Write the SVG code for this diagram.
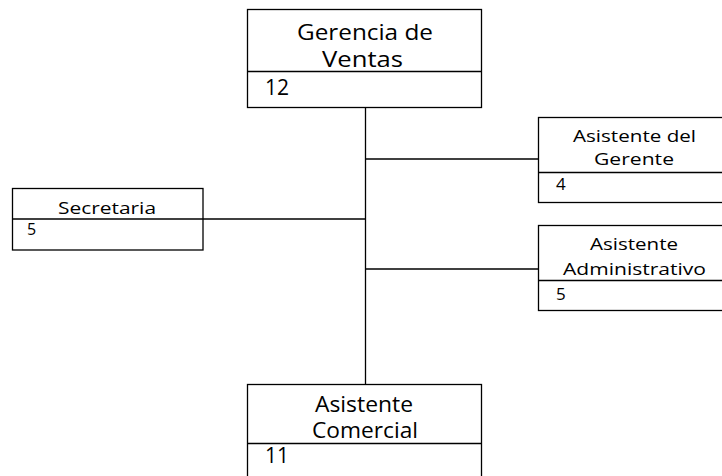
<svg xmlns="http://www.w3.org/2000/svg" width="722" height="476" viewBox="0 0 722 476">
<style>
.box{fill:#fff;stroke:#000;stroke-width:1.3}
.div{stroke:#000;stroke-width:1.3}
.con line{stroke:#000;stroke-width:1.3}
.t{font-family:"Open Sans","Liberation Sans",sans-serif;fill:#000}
.big{font-size:21px}
.mid{font-size:17px}
.sm{font-size:16px}
</style>
<rect width="722" height="476" fill="#fff"/>
<g id="connectors" class="con">
<line x1="365.5" y1="108" x2="365.5" y2="384"/>
<line x1="365.5" y1="159" x2="538" y2="159"/>
<line x1="365.5" y1="269" x2="538" y2="269"/>
<line x1="203" y1="219" x2="365.5" y2="219"/>
</g>
<g id="gerencia">
<rect class="box" x="247.5" y="9.5" width="234" height="98"/>
<line class="div" x1="247.5" y1="71.5" x2="481.5" y2="71.5"/>
<text class="t big" x="297" y="40" textLength="136" lengthAdjust="spacingAndGlyphs">Gerencia de</text>
<text class="t big" x="322" y="67" textLength="81" lengthAdjust="spacingAndGlyphs">Ventas</text>
<text class="t big" x="265" y="95">12</text>
</g>
<g id="asistente-gerente">
<rect class="box" x="538.5" y="117.5" width="200" height="85"/>
<line class="div" x1="538.5" y1="172.5" x2="738" y2="172.5"/>
<text class="t mid" x="573" y="142" textLength="123" lengthAdjust="spacingAndGlyphs">Asistente del</text>
<text class="t mid" x="594" y="165" textLength="80" lengthAdjust="spacingAndGlyphs">Gerente</text>
<text class="t mid" x="556" y="190">4</text>
</g>
<g id="asistente-administrativo">
<rect class="box" x="538.5" y="225.5" width="200" height="85"/>
<line class="div" x1="538.5" y1="280.5" x2="738" y2="280.5"/>
<text class="t mid" x="590" y="250" textLength="88" lengthAdjust="spacingAndGlyphs">Asistente</text>
<text class="t mid" x="563" y="275" textLength="143" lengthAdjust="spacingAndGlyphs">Administrativo</text>
<text class="t mid" x="556" y="300">5</text>
</g>
<g id="secretaria">
<rect class="box" x="12.5" y="188.5" width="190.5" height="61.5"/>
<line class="div" x1="12.5" y1="219" x2="203" y2="219"/>
<text class="t sm" x="58" y="214" textLength="98" lengthAdjust="spacingAndGlyphs">Secretaria</text>
<text class="t sm" x="27" y="235">5</text>
</g>
<g id="asistente-comercial">
<rect class="box" x="247.5" y="384.5" width="234" height="100"/>
<line class="div" x1="247.5" y1="443.5" x2="481.5" y2="443.5"/>
<text class="t big" x="315" y="412" textLength="98" lengthAdjust="spacingAndGlyphs">Asistente</text>
<text class="t big" x="312" y="438" textLength="106" lengthAdjust="spacingAndGlyphs">Comercial</text>
<text class="t big" x="265" y="463">11</text>
</g>
</svg>
